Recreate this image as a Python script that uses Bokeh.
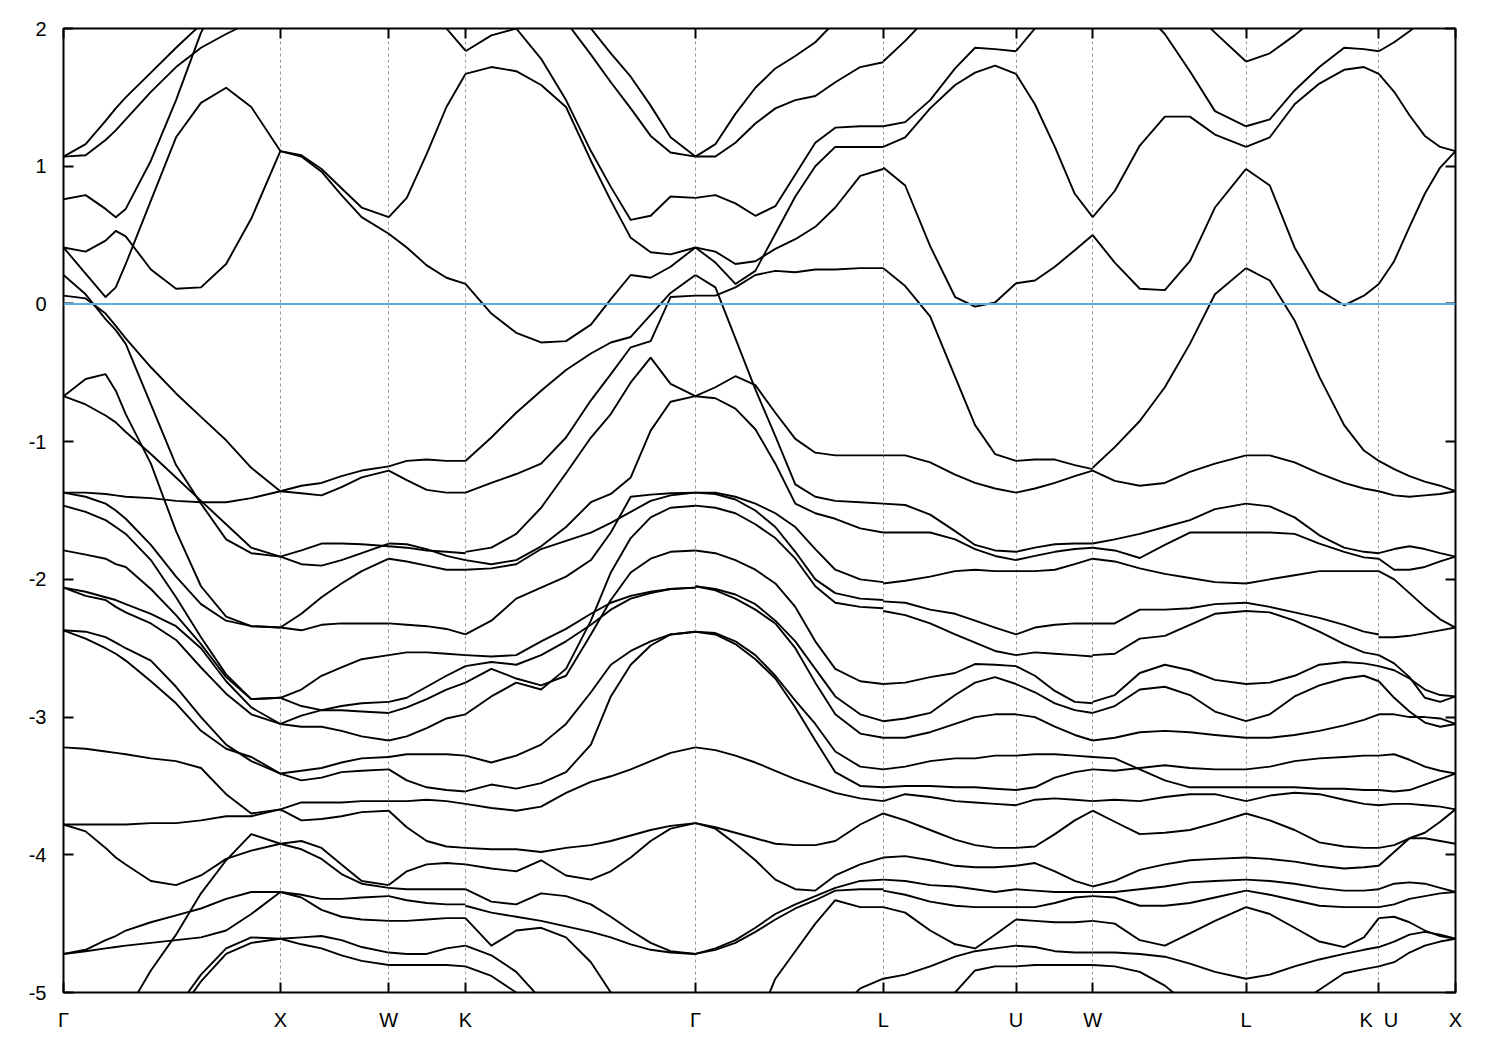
from bokeh.plotting import figure
from bokeh.models import FixedTicker, LinearAxis, Range1d, Span
from bokeh.embed import file_html
from bokeh.resources import INLINE

# high-symmetry path (2pi/a units)
tick_pos = [0.0, 1.0, 1.5, 1.8536, 2.9142, 3.7802, 4.3926, 4.7462, 5.4533, 6.0657, 6.4193]
tick_lab = ["Γ", "X", "W", "K", "Γ", "L", "U", "W", "L", "K\u00a0\u00a0U", "X"]
energy_ticks = [-5, -4, -3, -2, -1, 0, 1, 2]
energy_lab = ["-5", "-4", "-3", "-2", "-1", "0", "1", "2"]
e_fermi = 0.0

# ---- Gamma - X ----
k_GX = [0.0, 0.102, 0.194, 0.241, 0.287, 0.403, 0.519, 0.634, 0.750, 0.866, 1.0]
E_GX = [
    [1.07, 1.16, 1.33, 1.42, 1.50, 1.68, 1.86, 2.03, 2.2, 2.35, 2.5],
    [1.07, 1.08, 1.19, 1.26, 1.34, 1.54, 1.72, 1.86, 1.96, 2.05, 2.15],
    [0.76, 0.79, 0.69, 0.63, 0.69, 1.04, 1.48, 1.97, 2.3, 2.5, 2.7],
    [0.41, 0.38, 0.46, 0.53, 0.49, 0.25, 0.11, 0.12, 0.29, 0.62, 1.11],
    [0.41, 0.22, 0.05, 0.12, 0.29, 0.75, 1.21, 1.46, 1.57, 1.43, 1.11],
    [0.21, 0.07, -0.11, -0.19, -0.29, -0.73, -1.17, -1.45, -1.71, -1.81, -1.835],
    [0.06, 0.04, -0.07, -0.16, -0.25, -0.46, -0.65, -0.82, -0.99, -1.19, -1.36],
    [-0.67, -0.545, -0.51, -0.63, -0.80, -1.16, -1.65, -2.05, -2.27, -2.34, -2.35],
    [-0.67, -0.73, -0.81, -0.86, -0.93, -1.09, -1.26, -1.43, -1.60, -1.77, -1.835],
    [-1.37, -1.37, -1.38, -1.39, -1.40, -1.41, -1.43, -1.44, -1.44, -1.41, -1.36],
    [-1.37, -1.40, -1.45, -1.50, -1.56, -1.75, -1.98, -2.18, -2.30, -2.34, -2.35],
    [-1.465, -1.51, -1.57, -1.62, -1.67, -1.86, -2.13, -2.42, -2.69, -2.87, -2.86],
    [-1.79, -1.82, -1.85, -1.89, -1.91, -2.07, -2.26, -2.47, -2.71, -2.87, -2.86],
    [-2.06, -2.09, -2.13, -2.15, -2.18, -2.25, -2.34, -2.50, -2.74, -2.93, -3.05],
    [-2.06, -2.12, -2.15, -2.20, -2.24, -2.32, -2.44, -2.64, -2.83, -2.98, -3.05],
    [-2.37, -2.38, -2.42, -2.46, -2.50, -2.59, -2.78, -3.00, -3.20, -3.32, -3.41],
    [-2.37, -2.43, -2.50, -2.54, -2.59, -2.74, -2.90, -3.10, -3.23, -3.29, -3.41],
    [-3.22, -3.23, -3.25, -3.26, -3.27, -3.30, -3.32, -3.37, -3.56, -3.70, -3.67],
    [-3.78, -3.78, -3.78, -3.78, -3.78, -3.77, -3.77, -3.75, -3.72, -3.72, -3.67],
    [-3.78, -3.83, -3.95, -4.02, -4.07, -4.19, -4.22, -4.15, -4.03, -3.97, -3.92],
    [-5.8, -5.6, -5.4, -5.3, -5.15, -4.84, -4.58, -4.28, -4.04, -3.85, -3.92],
    [-4.72, -4.69, -4.62, -4.59, -4.55, -4.49, -4.44, -4.39, -4.32, -4.27, -4.27],
    [-4.72, -4.70, -4.68, -4.67, -4.66, -4.64, -4.62, -4.60, -4.55, -4.43, -4.27],
    [-6.5, -6.2, -5.9, -5.8, -5.7, -5.4, -5.12, -4.87, -4.68, -4.60, -4.61],
    [-6.6, -6.3, -6.0, -5.9, -5.8, -5.5, -5.17, -4.92, -4.72, -4.64, -4.61],
]

# ---- X - W ----
k_XW = [1.0, 1.097, 1.190, 1.282, 1.375, 1.5]
E_XW = [
    [1.11, 1.08, 0.98, 0.84, 0.70, 0.63],
    [1.11, 1.07, 0.96, 0.79, 0.63, 0.51],
    [-1.36, -1.32, -1.30, -1.25, -1.21, -1.18],
    [-1.36, -1.375, -1.39, -1.33, -1.26, -1.21],
    [-1.835, -1.79, -1.74, -1.74, -1.745, -1.76],
    [-1.835, -1.89, -1.90, -1.86, -1.81, -1.74],
    [-2.35, -2.25, -2.13, -2.03, -1.94, -1.85],
    [-2.35, -2.37, -2.33, -2.32, -2.32, -2.32],
    [-2.86, -2.80, -2.70, -2.64, -2.58, -2.55],
    [-2.86, -2.92, -2.95, -2.95, -2.96, -2.97],
    [-3.05, -2.99, -2.95, -2.92, -2.90, -2.89],
    [-3.05, -3.07, -3.07, -3.10, -3.14, -3.17],
    [-3.41, -3.39, -3.37, -3.33, -3.30, -3.29],
    [-3.41, -3.46, -3.44, -3.40, -3.39, -3.38],
    [-3.67, -3.62, -3.62, -3.62, -3.61, -3.61],
    [-3.67, -3.75, -3.74, -3.72, -3.69, -3.68],
    [-3.92, -3.90, -3.95, -4.07, -4.19, -4.22],
    [-3.92, -3.96, -4.03, -4.14, -4.21, -4.24],
    [-4.27, -4.29, -4.32, -4.32, -4.31, -4.30],
    [-4.27, -4.31, -4.40, -4.45, -4.47, -4.48],
    [-4.61, -4.60, -4.59, -4.62, -4.67, -4.71],
    [-4.61, -4.65, -4.68, -4.73, -4.77, -4.80],
]

# ---- W - K ----
k_WK = [1.5, 1.583, 1.675, 1.766, 1.8536]
E_WK = [
    [2.4, 2.3, 2.15, 2.0, 1.84],
    [0.63, 0.77, 1.09, 1.43, 1.67],
    [0.51, 0.41, 0.28, 0.19, 0.145],
    [-1.18, -1.14, -1.13, -1.14, -1.14],
    [-1.21, -1.28, -1.35, -1.37, -1.37],
    [-1.76, -1.77, -1.79, -1.80, -1.81],
    [-1.74, -1.745, -1.78, -1.83, -1.86],
    [-1.85, -1.87, -1.90, -1.93, -1.93],
    [-2.32, -2.33, -2.34, -2.36, -2.40],
    [-2.55, -2.53, -2.53, -2.54, -2.55],
    [-2.89, -2.86, -2.78, -2.70, -2.63],
    [-2.97, -2.93, -2.87, -2.80, -2.75],
    [-3.17, -3.14, -3.08, -3.01, -2.98],
    [-3.29, -3.27, -3.27, -3.27, -3.28],
    [-3.38, -3.46, -3.51, -3.53, -3.54],
    [-3.61, -3.61, -3.60, -3.61, -3.63],
    [-3.68, -3.80, -3.90, -3.94, -3.95],
    [-4.22, -4.12, -4.07, -4.06, -4.07],
    [-4.24, -4.25, -4.25, -4.25, -4.25],
    [-4.30, -4.33, -4.35, -4.36, -4.36],
    [-4.48, -4.48, -4.47, -4.46, -4.46],
    [-4.71, -4.72, -4.72, -4.68, -4.66],
    [-4.80, -4.80, -4.80, -4.80, -4.81],
]

# ---- K - Gamma ----
k_KG = [1.8536, 1.9730, 2.0878, 2.2026, 2.3174, 2.4322, 2.5240, 2.6158, 2.7077, 2.7995, 2.9142]
E_KG = [
    [2.8, 2.7, 2.6, 2.45, 2.2, 2.0, 1.82, 1.65, 1.44, 1.21, 1.07],
    [2.6, 2.5, 2.4, 2.25, 2.05, 1.81, 1.61, 1.42, 1.22, 1.10, 1.07],
    [1.835, 1.95, 2.00, 1.78, 1.48, 1.11, 0.85, 0.61, 0.64, 0.78, 0.77],
    [1.67, 1.72, 1.69, 1.59, 1.43, 1.04, 0.75, 0.48, 0.375, 0.36, 0.41],
    [0.145, -0.07, -0.21, -0.28, -0.27, -0.15, 0.035, 0.21, 0.19, 0.27, 0.41],
    [-1.14, -0.97, -0.79, -0.63, -0.48, -0.36, -0.28, -0.24, -0.08, 0.08, 0.21],
    [-1.37, -1.30, -1.235, -1.16, -0.97, -0.70, -0.51, -0.315, -0.27, 0.05, 0.06],
    [-1.80, -1.77, -1.67, -1.48, -1.23, -0.97, -0.80, -0.57, -0.39, -0.58, -0.67],
    [-1.86, -1.89, -1.86, -1.76, -1.62, -1.44, -1.38, -1.26, -0.92, -0.71, -0.67],
    [-1.93, -1.92, -1.89, -1.78, -1.72, -1.66, -1.59, -1.51, -1.43, -1.39, -1.37],
    [-2.40, -2.30, -2.14, -2.06, -1.98, -1.86, -1.66, -1.40, -1.385, -1.375, -1.37],
    [-2.55, -2.56, -2.55, -2.45, -2.36, -2.25, -2.17, -2.12, -2.09, -2.07, -2.06],
    [-2.63, -2.60, -2.62, -2.55, -2.45, -2.33, -2.22, -2.14, -2.10, -2.07, -2.06],
    [-2.75, -2.65, -2.72, -2.77, -2.70, -2.40, -2.15, -1.95, -1.85, -1.80, -1.79],
    [-2.98, -2.85, -2.75, -2.80, -2.65, -2.30, -1.95, -1.70, -1.55, -1.48, -1.465],
    [-3.28, -3.33, -3.28, -3.20, -3.05, -2.82, -2.62, -2.52, -2.45, -2.40, -2.38],
    [-3.54, -3.49, -3.52, -3.48, -3.40, -3.20, -2.85, -2.62, -2.48, -2.40, -2.38],
    [-3.63, -3.66, -3.68, -3.65, -3.55, -3.47, -3.43, -3.38, -3.32, -3.26, -3.22],
    [-3.95, -3.96, -3.96, -3.98, -3.95, -3.93, -3.90, -3.86, -3.82, -3.79, -3.77],
    [-4.07, -4.10, -4.12, -4.04, -4.15, -4.18, -4.12, -4.02, -3.90, -3.81, -3.77],
    [-4.25, -4.34, -4.36, -4.28, -4.30, -4.36, -4.45, -4.55, -4.64, -4.70, -4.72],
    [-4.37, -4.42, -4.45, -4.48, -4.52, -4.56, -4.60, -4.65, -4.69, -4.71, -4.72],
    [-4.46, -4.66, -4.55, -4.53, -4.60, -4.78, -5.0, -5.2, -5.4, -5.6, -5.8],
    [-4.66, -4.73, -4.85, -5.05, -5.25, -5.45, -5.6, -5.8, -6.0, -6.1, -6.2],
    [-4.81, -4.88, -5.0, -5.2, -5.4, -5.6, -5.8, -6.0, -6.1, -6.2, -6.3],
]

# ---- Gamma - L ----
k_GL = [2.9142, 3.0063, 3.0985, 3.1906, 3.2827, 3.3748, 3.4670, 3.5591, 3.6743, 3.7802]
E_GL = [
    [1.07, 1.16, 1.38, 1.57, 1.71, 1.80, 1.90, 2.05, 2.2, 2.3],
    [1.07, 1.07, 1.17, 1.31, 1.42, 1.48, 1.51, 1.61, 1.72, 1.755],
    [0.77, 0.79, 0.73, 0.64, 0.71, 0.94, 1.17, 1.28, 1.29, 1.29],
    [0.41, 0.38, 0.29, 0.31, 0.40, 0.47, 0.56, 0.70, 0.93, 0.98],
    [0.41, 0.30, 0.145, 0.24, 0.51, 0.78, 1.00, 1.14, 1.14, 1.14],
    [0.06, 0.06, 0.12, 0.21, 0.24, 0.23, 0.25, 0.25, 0.26, 0.26],
    [0.21, 0.12, -0.25, -0.62, -0.96, -1.31, -1.40, -1.43, -1.44, -1.45],
    [-0.67, -0.605, -0.525, -0.59, -0.79, -0.98, -1.08, -1.10, -1.10, -1.10],
    [-0.67, -0.685, -0.76, -0.91, -1.16, -1.45, -1.52, -1.56, -1.63, -1.66],
    [-1.37, -1.37, -1.40, -1.45, -1.52, -1.62, -1.78, -1.93, -2.00, -2.02],
    [-1.37, -1.38, -1.42, -1.50, -1.62, -1.80, -2.00, -2.10, -2.14, -2.15],
    [-1.465, -1.48, -1.52, -1.60, -1.70, -1.85, -2.05, -2.17, -2.20, -2.21],
    [-1.79, -1.81, -1.86, -1.93, -2.03, -2.20, -2.45, -2.65, -2.74, -2.76],
    [-2.05, -2.07, -2.11, -2.18, -2.30, -2.45, -2.65, -2.85, -2.98, -3.03],
    [-2.05, -2.08, -2.14, -2.22, -2.32, -2.50, -2.75, -2.98, -3.12, -3.15],
    [-2.38, -2.39, -2.45, -2.55, -2.70, -2.88, -3.05, -3.25, -3.36, -3.38],
    [-2.38, -2.40, -2.47, -2.58, -2.72, -2.93, -3.17, -3.40, -3.50, -3.51],
    [-3.22, -3.24, -3.28, -3.33, -3.39, -3.45, -3.50, -3.55, -3.59, -3.61],
    [-3.77, -3.80, -3.84, -3.88, -3.92, -3.93, -3.93, -3.90, -3.78, -3.70],
    [-3.77, -3.81, -3.92, -4.04, -4.18, -4.25, -4.26, -4.15, -4.07, -4.02],
    [-4.72, -4.68, -4.62, -4.53, -4.43, -4.36, -4.30, -4.24, -4.19, -4.18],
    [-4.72, -4.69, -4.64, -4.56, -4.47, -4.39, -4.33, -4.26, -4.25, -4.25],
    [-6.0, -5.8, -5.5, -5.25, -4.90, -4.70, -4.50, -4.33, -4.38, -4.38],
    [-7.0, -6.8, -6.5, -6.2, -5.9, -5.6, -5.4, -5.15, -4.97, -4.90],
]

# ---- L - U ----
k_LU = [3.7802, 3.8815, 3.9966, 4.1117, 4.2038, 4.2959, 4.3926]
E_LU = [
    [1.76, 1.91, 2.1, 2.3, 2.4, 2.45, 2.4],
    [1.29, 1.32, 1.48, 1.71, 1.86, 1.85, 1.835],
    [1.14, 1.21, 1.42, 1.59, 1.68, 1.73, 1.67],
    [0.99, 0.86, 0.42, 0.05, -0.02, 0.01, 0.15],
    [0.26, 0.13, -0.09, -0.53, -0.88, -1.09, -1.14],
    [-1.10, -1.10, -1.15, -1.24, -1.30, -1.34, -1.37],
    [-1.45, -1.46, -1.53, -1.65, -1.75, -1.79, -1.80],
    [-1.66, -1.66, -1.66, -1.71, -1.78, -1.83, -1.86],
    [-2.03, -2.01, -1.98, -1.94, -1.93, -1.94, -1.94],
    [-2.16, -2.17, -2.22, -2.25, -2.30, -2.35, -2.40],
    [-2.23, -2.26, -2.32, -2.40, -2.46, -2.52, -2.55],
    [-2.76, -2.75, -2.71, -2.68, -2.615, -2.62, -2.63],
    [-3.03, -3.01, -2.97, -2.84, -2.75, -2.71, -2.76],
    [-3.15, -3.15, -3.11, -3.05, -3.00, -2.98, -2.98],
    [-3.38, -3.36, -3.32, -3.30, -3.30, -3.28, -3.28],
    [-3.51, -3.50, -3.50, -3.51, -3.51, -3.52, -3.53],
    [-3.61, -3.56, -3.58, -3.61, -3.62, -3.63, -3.64],
    [-3.70, -3.75, -3.82, -3.89, -3.93, -3.95, -3.95],
    [-4.02, -4.01, -4.04, -4.08, -4.09, -4.09, -4.08],
    [-4.18, -4.19, -4.22, -4.23, -4.25, -4.27, -4.25],
    [-4.26, -4.29, -4.34, -4.37, -4.38, -4.38, -4.38],
    [-4.38, -4.42, -4.55, -4.65, -4.68, -4.58, -4.47],
    [-4.90, -4.87, -4.81, -4.74, -4.70, -4.68, -4.66],
    [-5.6, -5.4, -5.2, -5.0, -4.84, -4.81, -4.81],
]

# ---- U - W ----
k_UW = [4.3926, 4.4798, 4.5717, 4.6635, 4.7462]
E_UW = [
    [1.835, 2.0, 2.15, 2.25, 2.3],
    [1.67, 1.45, 1.14, 0.80, 0.63],
    [0.15, 0.17, 0.27, 0.39, 0.50],
    [-1.14, -1.13, -1.13, -1.17, -1.20],
    [-1.37, -1.34, -1.30, -1.25, -1.21],
    [-1.80, -1.77, -1.745, -1.74, -1.74],
    [-1.86, -1.83, -1.80, -1.78, -1.77],
    [-1.94, -1.94, -1.93, -1.89, -1.85],
    [-2.40, -2.35, -2.33, -2.32, -2.32],
    [-2.55, -2.53, -2.54, -2.55, -2.56],
    [-2.63, -2.70, -2.81, -2.89, -2.90],
    [-2.76, -2.82, -2.90, -2.95, -2.97],
    [-2.98, -3.00, -3.07, -3.13, -3.17],
    [-3.28, -3.27, -3.27, -3.28, -3.29],
    [-3.53, -3.51, -3.44, -3.40, -3.38],
    [-3.64, -3.60, -3.59, -3.60, -3.61],
    [-3.95, -3.94, -3.85, -3.75, -3.68],
    [-4.08, -4.06, -4.12, -4.19, -4.23],
    [-4.25, -4.26, -4.27, -4.27, -4.27],
    [-4.38, -4.38, -4.35, -4.31, -4.30],
    [-4.47, -4.48, -4.49, -4.49, -4.48],
    [-4.66, -4.67, -4.70, -4.71, -4.71],
    [-4.81, -4.80, -4.80, -4.80, -4.80],
]

# ---- W - L ----
k_WL = [4.7462, 4.8479, 4.9634, 5.0789, 5.1945, 5.3100, 5.4533]
E_WL = [
    [2.3, 2.25, 2.15, 1.96, 1.69, 1.40, 1.29],
    [2.6, 2.5, 2.4, 2.3, 2.15, 1.97, 1.76],
    [0.63, 0.82, 1.15, 1.36, 1.36, 1.23, 1.14],
    [0.50, 0.30, 0.11, 0.10, 0.31, 0.70, 0.98],
    [-1.19, -1.04, -0.85, -0.605, -0.29, 0.07, 0.26],
    [-1.21, -1.285, -1.32, -1.30, -1.22, -1.16, -1.10],
    [-1.74, -1.71, -1.67, -1.62, -1.57, -1.49, -1.45],
    [-1.77, -1.79, -1.845, -1.75, -1.66, -1.66, -1.66],
    [-1.85, -1.87, -1.92, -1.96, -1.99, -2.02, -2.03],
    [-2.32, -2.32, -2.22, -2.22, -2.21, -2.18, -2.17],
    [-2.55, -2.54, -2.43, -2.41, -2.33, -2.25, -2.23],
    [-2.89, -2.84, -2.68, -2.62, -2.66, -2.73, -2.76],
    [-2.97, -2.92, -2.80, -2.78, -2.84, -2.96, -3.03],
    [-3.17, -3.15, -3.11, -3.10, -3.11, -3.13, -3.15],
    [-3.29, -3.30, -3.38, -3.46, -3.51, -3.51, -3.51],
    [-3.38, -3.39, -3.37, -3.35, -3.37, -3.38, -3.38],
    [-3.61, -3.60, -3.61, -3.58, -3.56, -3.56, -3.61],
    [-3.68, -3.76, -3.85, -3.84, -3.82, -3.77, -3.70],
    [-4.23, -4.19, -4.11, -4.07, -4.04, -4.03, -4.02],
    [-4.27, -4.27, -4.25, -4.23, -4.20, -4.19, -4.18],
    [-4.30, -4.31, -4.37, -4.37, -4.35, -4.31, -4.26],
    [-4.48, -4.50, -4.62, -4.66, -4.57, -4.48, -4.38],
    [-4.71, -4.71, -4.72, -4.74, -4.79, -4.85, -4.90],
    [-4.80, -4.81, -4.85, -4.95, -5.1, -5.3, -5.5],
]

# ---- L - K ----
k_LK = [5.4533, 5.5630, 5.6772, 5.7915, 5.9057, 5.9971, 6.0657]
E_LK = [
    [1.76, 1.82, 1.95, 2.1, 2.2, 2.3, 2.4],
    [1.29, 1.34, 1.55, 1.72, 1.86, 1.85, 1.835],
    [1.14, 1.21, 1.45, 1.60, 1.70, 1.72, 1.67],
    [0.98, 0.86, 0.41, 0.10, -0.01, 0.06, 0.145],
    [0.26, 0.17, -0.12, -0.53, -0.88, -1.065, -1.14],
    [-1.10, -1.10, -1.15, -1.23, -1.30, -1.34, -1.36],
    [-1.45, -1.47, -1.55, -1.68, -1.77, -1.80, -1.81],
    [-1.66, -1.66, -1.67, -1.74, -1.80, -1.84, -1.85],
    [-2.03, -2.00, -1.97, -1.94, -1.94, -1.94, -1.94],
    [-2.17, -2.20, -2.24, -2.28, -2.33, -2.38, -2.40],
    [-2.23, -2.24, -2.30, -2.38, -2.47, -2.53, -2.55],
    [-2.76, -2.75, -2.70, -2.62, -2.60, -2.61, -2.63],
    [-3.03, -2.98, -2.85, -2.77, -2.72, -2.70, -2.74],
    [-3.15, -3.15, -3.13, -3.10, -3.06, -3.02, -2.98],
    [-3.38, -3.36, -3.32, -3.30, -3.29, -3.28, -3.28],
    [-3.51, -3.51, -3.51, -3.52, -3.52, -3.53, -3.53],
    [-3.61, -3.57, -3.55, -3.56, -3.60, -3.63, -3.64],
    [-3.70, -3.75, -3.82, -3.91, -3.94, -3.95, -3.95],
    [-4.02, -4.03, -4.05, -4.08, -4.10, -4.09, -4.08],
    [-4.18, -4.19, -4.21, -4.24, -4.26, -4.26, -4.25],
    [-4.26, -4.29, -4.33, -4.37, -4.38, -4.38, -4.38],
    [-4.38, -4.43, -4.53, -4.63, -4.67, -4.60, -4.46],
    [-4.90, -4.87, -4.81, -4.76, -4.72, -4.69, -4.67],
    [-5.6, -5.3, -5.1, -4.98, -4.86, -4.83, -4.81],
]

# ---- U - X ----
k_UX = [6.0657, 6.1364, 6.2071, 6.2779, 6.3486, 6.4193]
E_UX = [
    [1.835, 1.90, 1.98, 2.07, 2.15, 2.25],
    [1.67, 1.54, 1.37, 1.22, 1.14, 1.11],
    [0.145, 0.31, 0.56, 0.80, 0.99, 1.11],
    [-1.14, -1.20, -1.25, -1.29, -1.32, -1.36],
    [-1.36, -1.39, -1.40, -1.39, -1.38, -1.36],
    [-1.81, -1.78, -1.76, -1.78, -1.81, -1.835],
    [-1.85, -1.93, -1.93, -1.91, -1.87, -1.835],
    [-1.94, -2.00, -2.10, -2.20, -2.29, -2.35],
    [-2.42, -2.42, -2.41, -2.39, -2.37, -2.35],
    [-2.55, -2.61, -2.71, -2.86, -2.89, -2.85],
    [-2.63, -2.66, -2.72, -2.80, -2.84, -2.85],
    [-2.74, -2.86, -2.96, -3.04, -3.07, -3.05],
    [-2.98, -2.98, -3.00, -3.00, -3.01, -3.05],
    [-3.28, -3.27, -3.31, -3.36, -3.39, -3.41],
    [-3.53, -3.54, -3.53, -3.49, -3.45, -3.41],
    [-3.64, -3.63, -3.63, -3.64, -3.65, -3.67],
    [-3.95, -3.93, -3.88, -3.84, -3.76, -3.67],
    [-4.08, -3.98, -3.88, -3.88, -3.90, -3.92],
    [-4.25, -4.21, -4.20, -4.21, -4.24, -4.27],
    [-4.38, -4.36, -4.32, -4.30, -4.28, -4.27],
    [-4.46, -4.45, -4.49, -4.55, -4.59, -4.61],
    [-4.67, -4.63, -4.58, -4.56, -4.58, -4.61],
    [-4.81, -4.78, -4.71, -4.66, -4.63, -4.61],
]

segments = [(k_GX, E_GX), (k_XW, E_XW), (k_WK, E_WK), (k_KG, E_KG), (k_GL, E_GL),
            (k_LU, E_LU), (k_UW, E_UW), (k_WL, E_WL), (k_LK, E_LK), (k_UX, E_UX)]

xs, ys = [], []
for kk, bands in segments:
    for b in bands:
        xs.append(list(kk))
        ys.append(list(b))

FONT = "Liberation Sans"

p = figure(frame_width=1392, frame_height=964,
           x_range=Range1d(tick_pos[0], tick_pos[-1]), y_range=Range1d(-5, 2),
           output_backend="svg", toolbar_location=None,
           min_border_left=63, min_border_top=28, min_border_right=37, min_border_bottom=45)
p.background_fill_color = "white"
p.border_fill_color = "white"
p.outline_line_color = "black"
p.outline_line_width = 2

# grid: dashed verticals at interior high-symmetry points
p.ygrid.visible = False
p.xgrid.ticker = FixedTicker(ticks=tick_pos[1:-1])
p.xgrid.grid_line_color = "#9a9a9a"
p.xgrid.grid_line_dash = "3 3"
p.xgrid.grid_line_width = 1

def style_axis(ax, show_labels, standoff=12):
    ax.axis_line_color = None
    ax.major_tick_in = 10
    ax.major_tick_out = 0
    ax.minor_tick_line_color = None
    ax.major_tick_line_width = 2
    ax.major_tick_line_color = "black"
    ax.major_label_text_font = FONT
    if show_labels:
        ax.major_label_text_font_size = "20px"
        ax.major_label_text_color = "black"
        ax.major_label_standoff = standoff
    else:
        ax.major_label_text_font_size = "1px"
        ax.major_label_text_color = None
        ax.major_label_standoff = 0

p.xaxis.ticker = FixedTicker(ticks=tick_pos)
p.xaxis.major_label_overrides = {float(t): lab for t, lab in zip(tick_pos, tick_lab)}
style_axis(p.xaxis[0], True, 16)
p.yaxis.ticker = FixedTicker(ticks=energy_ticks)
p.yaxis.major_label_overrides = {t: lab for t, lab in zip(energy_ticks, energy_lab)}
style_axis(p.yaxis[0], True, 17)

top_ax = LinearAxis(ticker=FixedTicker(ticks=tick_pos))
style_axis(top_ax, False)
p.add_layout(top_ax, "above")
right_ax = LinearAxis(ticker=FixedTicker(ticks=energy_ticks))
style_axis(right_ax, False)
p.add_layout(right_ax, "right")

p.multi_line(xs, ys, line_color="black", line_width=1.9, line_join="round")

p.add_layout(Span(location=e_fermi, dimension="width", line_color="#56B0E0", line_width=2))

open("out.html", "w").write(file_html(p, INLINE))
